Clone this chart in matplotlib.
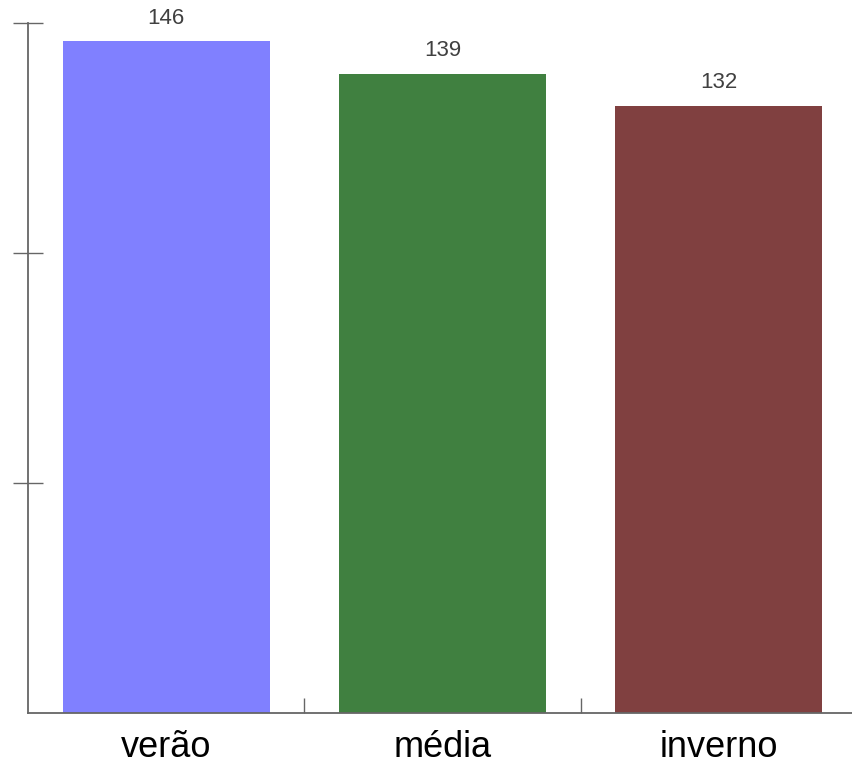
import matplotlib
matplotlib.use("Agg")
import matplotlib.pyplot as plt

categories = ["verão", "média", "inverno"]
values = [146, 139, 132]
colors = ["#8080ff", "#408040", "#804040"]
y_ticks = [0, 50, 100, 150]

plt.rcParams['font.family'] = ['Liberation Sans', 'DejaVu Sans']

W, H = 852, 767
fig = plt.figure(figsize=(W / 100, H / 100), dpi=100)
# axes box in pixel terms: x 28..857, y 23..713
ax = fig.add_axes([28 / W, (H - 713) / H, (857 - 28) / W, (713 - 23) / H])

x = range(len(categories))
bars = ax.bar(x, values, width=0.75, color=colors, edgecolor='none')

for xi, v in zip(x, values):
    ax.annotate(str(v), (xi, v), xytext=(0, 9), textcoords='offset points',
                ha='center', va='bottom', fontsize=16, color='#404040')

ax.set_xlim(-0.5, len(categories) - 0.5)
ax.set_ylim(0, 150)

# category boundaries as x ticks (inward), labels as minor ticks
ax.set_xticks([0.5, 1.5])
ax.set_xticklabels([])
ax.tick_params(axis='x', which='major', direction='in', length=11, width=1, color='#666666')
ax.set_xticks(list(x), minor=True)
ax.set_xticklabels(categories, minor=True, fontsize=26, color='black')
ax.tick_params(axis='x', which='minor', length=0, pad=12)

ax.set_yticks(y_ticks[1:])
ax.set_yticklabels([])
ax.tick_params(axis='y', direction='inout', length=22, width=1, color='#666666')

for side in ['top', 'right']:
    ax.spines[side].set_visible(False)
for side in ['left', 'bottom']:
    ax.spines[side].set_color('#666666')
    ax.spines[side].set_linewidth(1.3)

fig.savefig("out.png", dpi=100)
